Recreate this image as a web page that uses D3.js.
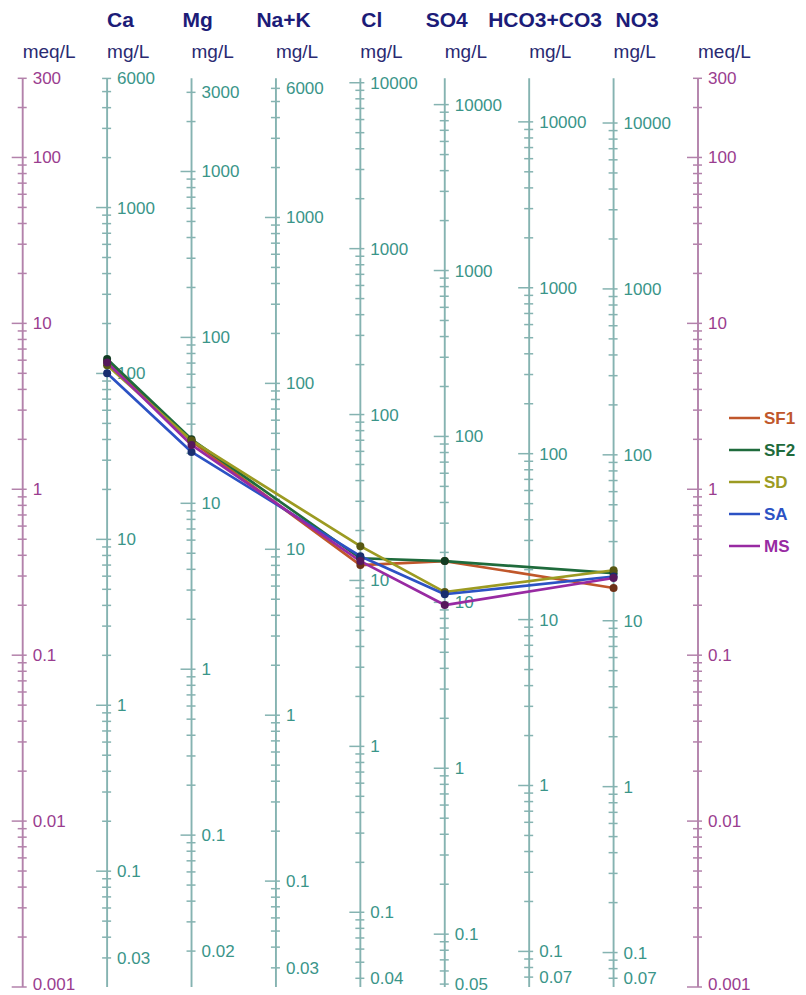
<!DOCTYPE html>
<html>
    <head>
        <meta charset="utf-8">
        <title>Schoeller diagram</title>
        <script src="https://d3js.org/d3.v7.min.js"></script>
        <style>
            body { margin: 0; background: #fff; }
            text { font-family: "Liberation Sans", Arial, sans-serif; }
        </style>
    </head>
    <body>
        <div id="chart"></div>
        <script>
            // ions and their equivalent weights (mg per meq)
            var ions = ["Ca", "Mg", "Na+K", "Cl", "SO4", "HCO3+CO3", "NO3"]
            var eqWeight = [20.04, 12.15, 23.0, 35.45, 48.03, 61.02, 62.0]

            var samples = ["SF1", "SF2", "SD", "SA", "MS"]
            var colors = ["#c0572b", "#1f6b3c", "#9c9b22", "#2c52c4", "#982aa2"]
            var SF1 = [5.9, 1.95, null, 0.349, 0.369, null, 0.254]
            var SF2 = [6.1, 2.0, null, 0.384, 0.369, null, 0.312]
            var SD = [5.6, 1.97, null, 0.454, 0.240, null, 0.325]
            var SA = [5.0, 1.68, null, 0.395, 0.233, null, 0.298]
            var MS = [5.8, 1.85, null, 0.369, 0.2005, null, 0.292]
            var values = [SF1, SF2, SD, SA, MS]

            // meq/L range shared by all axes
            var meqRange = [0.001, 300]

            var width = 806, height = 995
            var svg = d3.select("#chart")
                .append("svg")
                    .attr("width", width)
                    .attr("height", height)

            var x = d3.scalePoint()
                .domain(["meqL"].concat(ions, ["meqR"]))
                .range([22.7, 698])

            var y = d3.scaleLog()
                .domain(meqRange)
                .range([987, 78.3])

            var meqColor = "#b382ab", meqText = "#9a3d8f"
            var ionColor = "#85b3b1", ionText = "#3a9589"
            var navy = "#1c1c78"

            // log ticks 1..9 per decade inside [lo, hi]
            function logTicks(lo, hi) {
                var out = []
                for (var e = Math.floor(Math.log10(lo)); e <= Math.ceil(Math.log10(hi)); e++) {
                    for (var k = 1; k <= 9; k++) {
                        var v = +(k * Math.pow(10, e)).toPrecision(12)
                        if (v >= lo * (1 - 1e-9) && v <= hi * (1 + 1e-9)) out.push(v)
                    }
                }
                return out
            }
            function niceTop(v) {
                var e = Math.floor(Math.log10(v) + 1e-12), p = Math.pow(10, e)
                return +(Math.floor(v / p + 1e-9) * p).toPrecision(12)
            }
            function niceBottom(v) {
                var e = Math.floor(Math.log10(v) + 1e-12), p = Math.pow(10, e)
                return +(Math.ceil(v / p - 1e-9) * p).toPrecision(12)
            }
            function isDecade(v) {
                var l = Math.log10(v)
                return Math.abs(l - Math.round(l)) < 1e-9
            }
            var fmt = d3.format("~g")

            // draw one vertical log axis; factor converts meq/L to the axis unit
            function drawAxis(key, factor, lineColor, textColor) {
                var cx = x(key)
                var lo = meqRange[0] * factor, hi = meqRange[1] * factor
                var g = svg.append("g")
                g.append("line")
                    .attr("x1", cx).attr("x2", cx)
                    .attr("y1", y(meqRange[1])).attr("y2", y(meqRange[0]))
                    .style("stroke", lineColor)
                    .style("stroke-width", 1.9)
                var ticks = logTicks(lo, hi)
                g.selectAll(".tick")
                    .data(ticks)
                    .enter().append("line")
                        .attr("x1", function (d) { return cx - (isDecade(d) ? 11 : 5) })
                        .attr("x2", cx + 4)
                        .attr("y1", function (d) { return y(d / factor) })
                        .attr("y2", function (d) { return y(d / factor) })
                        .style("stroke", lineColor)
                        .style("stroke-width", 1.5)
                var top = niceTop(hi), bottom = niceBottom(lo)
                var labels = ticks.filter(function (d) { return isDecade(d) || d === top || d === bottom })
                g.selectAll(".lab")
                    .data(labels)
                    .enter().append("text")
                        .attr("x", cx + 10)
                        .attr("y", function (d) { return Math.min(y(d / factor) + 6, 990) })
                        .style("font-size", "17px")
                        .style("fill", textColor)
                        .text(function (d) { return fmt(d) })
                // unit header
                svg.append("text")
                    .attr("x", cx)
                    .attr("y", 58)
                    .style("font-size", "19px")
                    .style("fill", "#2a2a72")
                    .text(factor === 1 ? "meq/L" : "mg/L")
            }

            drawAxis("meqL", 1, meqColor, meqText)
            drawAxis("meqR", 1, meqColor, meqText)
            ions.forEach(function (ion, i) {
                drawAxis(ion, eqWeight[i], ionColor, ionText)
            })

            // ion titles (shifted so the long names do not collide)
            var titleDx = [0, -9, -19.5, 1, -19, -41, 2]
            ions.forEach(function (ion, i) {
                svg.append("text")
                    .attr("x", x(ion) + titleDx[i])
                    .attr("y", 27)
                    .style("font-size", "21px")
                    .style("font-weight", "bold")
                    .style("fill", navy)
                    .text(ion)
            })

            // sample lines, skipping unmeasured ions
            var line = d3.line()
                .x(function (d) { return x(d.ion) })
                .y(function (d) { return y(d.v) })

            var series = samples.map(function (s, i) {
                return {
                    name: s,
                    color: colors[i],
                    pts: ions.map(function (ion, j) { return {ion: ion, v: values[i][j]} })
                        .filter(function (d) { return d.v != null })
                }
            })

            series.forEach(function (s) {
                svg.append("path")
                    .datum(s.pts)
                    .attr("d", line)
                    .style("fill", "none")
                    .style("stroke", s.color)
                    .style("stroke-width", 2.7)
                    .style("stroke-linejoin", "round")
            })
            series.forEach(function (s) {
                svg.selectAll(null)
                    .data(s.pts)
                    .enter().append("circle")
                        .attr("cx", function (d) { return x(d.ion) })
                        .attr("cy", function (d) { return y(d.v) })
                        .attr("r", 4)
                        .style("fill", d3.color(s.color).darker(1.6))
            })

            // legend
            var legend = svg.append("g")
            series.forEach(function (s, i) {
                var ly = 418 + i * 32
                legend.append("line")
                    .attr("x1", 729).attr("x2", 760)
                    .attr("y1", ly).attr("y2", ly)
                    .style("stroke", s.color)
                    .style("stroke-width", 2.5)
                legend.append("text")
                    .attr("x", 764)
                    .attr("y", ly + 6)
                    .style("font-size", "17px")
                    .style("font-weight", "bold")
                    .style("fill", s.color)
                    .text(s.name)
            })
        </script>
    </body>
</html>
